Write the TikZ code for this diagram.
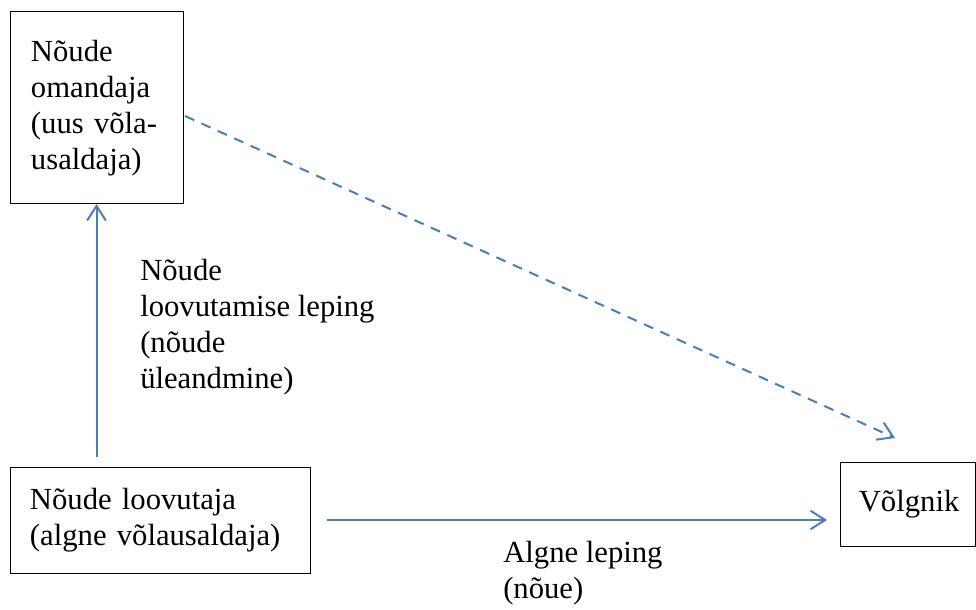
\documentclass[tikz,border=0pt]{standalone}
\usepackage{fontspec}
\setmainfont{Liberation Serif}
\usepackage{xcolor}
\usepackage{tikz}
\usetikzlibrary{arrows.meta,positioning}
\definecolor{claimBlue}{HTML}{4A7EBB}

\begin{document}
\begin{tikzpicture}[
  x=0.75pt, y=-0.75pt,
  every node/.style={font=\rmfamily\fontsize{23pt}{27pt}\selectfont},
  party/.style={draw, line width=0.75pt, align=left, outer sep=0pt, inner ysep=0pt},
  lbl/.style={align=left, inner sep=0pt, anchor=north west},
  arr/.style={-{Straight Barb[length=11pt,width=14pt]}, line width=1.5pt, draw=claimBlue},
  darr/.style={-{Straight Barb[length=11pt,width=14pt]}, line width=1.5pt, draw=claimBlue, dash pattern=on 7.5pt off 6pt}
]
\useasboundingbox (0,0) rectangle (976,610);

% Parties
\node[party, minimum width=129.75pt, minimum height=144pt, inner xsep=15.75pt, text width=98.25pt] (omandaja) at (96.5,108) {N\~oude\\omandaja\\(uus v\~ola-\\usaldaja)};
\node[party, minimum width=225pt, minimum height=79.5pt, inner xsep=15pt, text width=195pt] (loovutaja) at (160,520) {N\~oude loovutaja\\(algne v\~olausaldaja)};
\node[party, minimum width=101.25pt, minimum height=63pt, inner xsep=14pt, text width=73pt] (volgnik) at (907.5,504) {V\~olgnik};

% Connectors
\draw[arr, shorten <=7.5pt] (omandaja.south |- loovutaja.north) -- (omandaja.south);
\draw[arr, shorten <=12.75pt, shorten >=9.75pt] (loovutaja.east) -- (loovutaja.east -| volgnik.west);
\draw[darr] ([xshift=1.5pt,yshift=-6pt]omandaja.east) -- ([xshift=-9.4pt,yshift=18pt]volgnik.north);

% Labels
\node[lbl] (lepingLoov) at (140,259) {N\~oude\\loovutamise leping\\(n\~oude\\\"uleandmine)};
\node[lbl] (lepingAlgne) at (503,541) {Algne leping\\(n\~oue)};
\end{tikzpicture}
\end{document}
